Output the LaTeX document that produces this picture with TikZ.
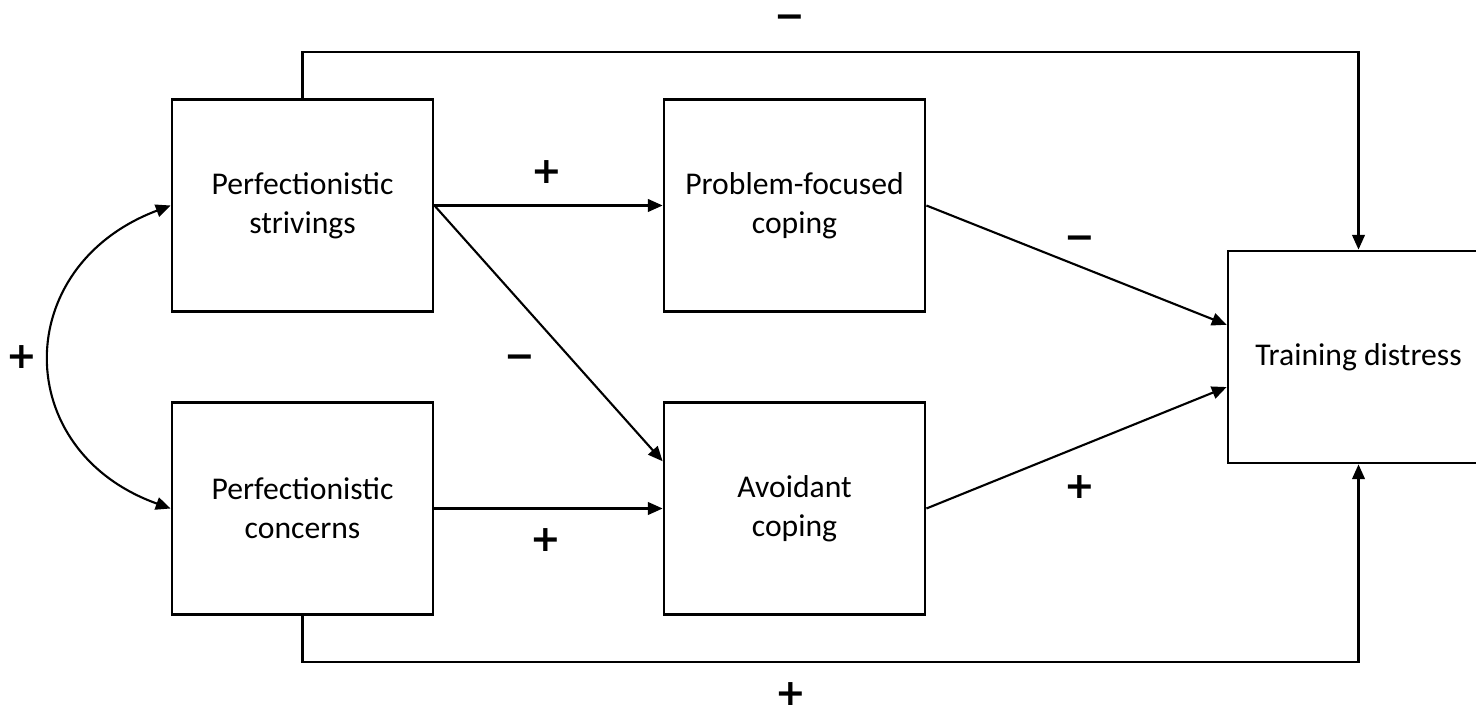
\documentclass[tikz,border=0pt]{standalone}
\usepackage{fontspec}
\setmainfont{Carlito}
\newfontfamily\signfont{DejaVu Sans}
\usetikzlibrary{arrows.meta,calc}
\begin{document}
\begin{tikzpicture}[x=0.01cm,y=-0.01cm,
  box/.style={draw,line width=0.75pt,minimum width=2.61cm,minimum height=2.12cm,align=center,inner sep=0pt,font=\fontsize{9}{11}\selectfont},
  conn/.style={line width=0.6pt,-{Triangle[length=4.2pt,width=3.6pt]}},
  sign/.style={font=\signfont\bfseries\fontsize{10.4}{10.4}\selectfont,inner sep=0pt,text height=6.8pt,text depth=0pt}]
\useasboundingbox (0,0) rectangle (1476,710);
\clip (0,0) rectangle (1476,710);
\node[box] (PS) at (302.5,205.5) {Perfectionistic\\strivings};
\node[box] (PC) at (302.5,508.5) {Perfectionistic\\concerns};
\node[box] (PFC) at (794.5,205.5) {Problem-focused\\coping};
\node[box] (AC) at (794.5,508.5) {Avoidant\\coping};
\node[box] (TD) at (1358.5,357) {Training distress};
\coordinate (topc) at (800,52);
\coordinate (botc) at (800,662);
\draw[conn] (PS.north) |- (topc) -| (TD.north);
\draw[conn] (PC.south) |- (botc) -| (TD.south);
\draw[conn] (PS.east) -- (PFC.west);
\draw[conn] (PS.east) -- ($(AC.north west)!0.28!(AC.south west)$);
\draw[conn] (PC.east) -- (AC.west);
\draw[conn] (PFC.east) -- ($(TD.north west)!0.35!(TD.south west)$);
\draw[conn] (AC.east) -- ($(TD.north west)!0.64!(TD.south west)$);
\draw[line width=0.6pt,{Triangle[length=4.2pt,width=3.6pt]}-{Triangle[length=4.2pt,width=3.6pt]}] (PS.west) .. controls (10,266) and (10,451) .. (PC.west);
\node[sign] (s1) at (790,17) {−};
\node[sign] (s2) at (791,694) {+};
\node[sign] (s3) at (547,172) {+};
\node[sign] (s4) at (520,357) {−};
\node[sign] (s5) at (546,540) {+};
\node[sign] (s6) at (1080,238) {−};
\node[sign] (s7) at (1080,487) {+};
\node[sign] (s8) at (22,357) {+};
\end{tikzpicture}
\end{document}
